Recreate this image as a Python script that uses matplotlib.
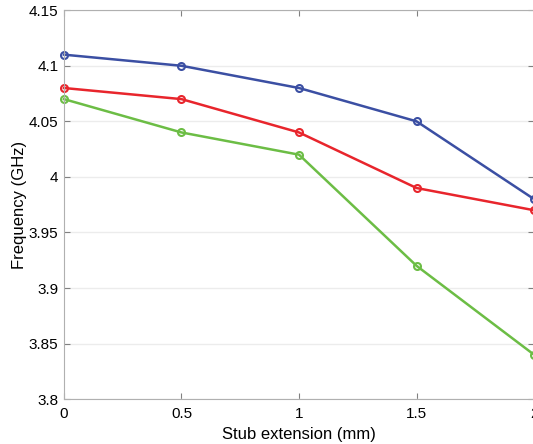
import matplotlib.pyplot as plt
from matplotlib.ticker import FuncFormatter

plt.rcParams['font.family'] = ['Liberation Sans', 'DejaVu Sans']

ext = [0, 0.5, 1, 1.5, 2]
f_blue = [4.11, 4.10, 4.08, 4.05, 3.98]
f_red = [4.08, 4.07, 4.04, 3.99, 3.97]
f_green = [4.07, 4.04, 4.02, 3.92, 3.84]

fig = plt.figure(figsize=(5.33, 4.44), dpi=100)
ax = fig.add_axes([0.120, 0.101, 0.882, 0.876])

for y, c in [(f_blue, '#3b4fa3'), (f_red, '#e8252c'), (f_green, '#6cbd45')]:
    ax.plot(ext, y, color=c, lw=1.8, marker='o', ms=5, mfc='none', mec=c, mew=1.5, clip_on=False)

ax.set_xlim(0, 2)
ax.set_ylim(3.8, 4.15)
ax.set_xticks(ext)
ax.set_yticks([3.8, 3.85, 3.9, 3.95, 4.0, 4.05, 4.1, 4.15])
ax.xaxis.set_major_formatter(FuncFormatter(lambda v, p: '%g' % v))
ax.yaxis.set_major_formatter(FuncFormatter(lambda v, p: '%g' % v))
ax.grid(axis='y', color='#ececec', lw=1)
ax.set_axisbelow(True)
for s in ax.spines.values():
    s.set_color('#b0b0b0')
ax.tick_params(direction='in', length=4, color='#808080', labelsize=11, top=True, right=True)
ax.tick_params(axis='x', pad=6)
ax.tick_params(axis='y', pad=4)
ax.set_xlabel('Stub extension (mm)', fontsize=12, labelpad=4)
ax.set_ylabel('Frequency (GHz)', fontsize=12, labelpad=1)

fig.savefig('out.png', dpi=100)
